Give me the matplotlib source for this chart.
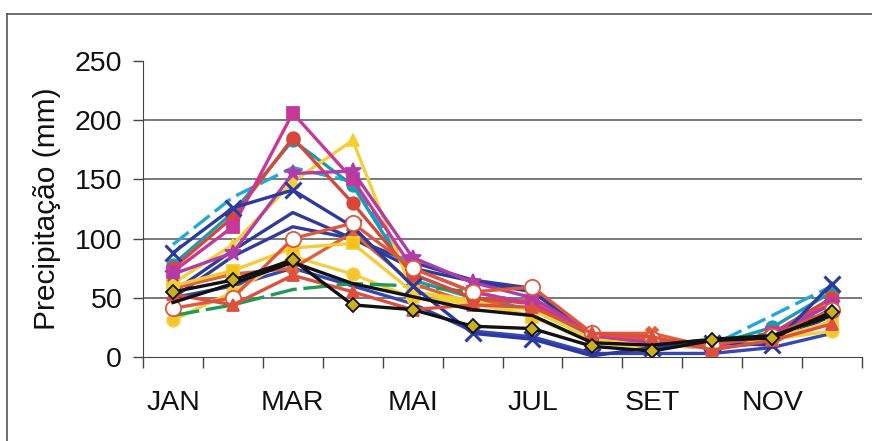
import matplotlib
matplotlib.use("Agg")
import matplotlib.pyplot as plt
from matplotlib.lines import Line2D
from matplotlib.ticker import FixedLocator

months = ["JAN", "FEV", "MAR", "ABR", "MAI", "JUN", "JUL", "AGO", "SET", "OUT", "NOV", "DEZ"]
month_labels = ["JAN", "", "MAR", "", "MAI", "", "JUL", "", "SET", "", "NOV", ""]
y_ticks = [0, 50, 100, 150, 200, 250]

s_magenta_sq = [72, 110, 206, 150, 75, 55, 45, 18, 12, 8, 20, 45]
s_red_circ = [75, 118, 185, 130, 70, 50, 45, 20, 15, 10, 20, 50]
s_teal_circ = [78, 122, 183, 145, 65, 50, 40, 18, 14, 10, 25, 55]
s_yellow_tri = [62, 95, 148, 183, 55, 45, 40, 15, 10, 8, 15, 30]
s_magenta_star = [70, 88, 155, 157, 84, 63, 50, 20, 15, 10, 18, 45]
s_blue_x = [88, 126, 141, 110, 60, 20, 15, 1, 8, 12, 10, 62]
s_cyan_dash = [95, 135, 160, 148, 70, 50, 40, 15, 10, 10, 35, 60]
s_navy_a = [55, 90, 122, 100, 75, 64, 55, 18, 12, 8, 15, 40]
s_navy_b = [50, 85, 110, 100, 80, 65, 58, 15, 10, 8, 12, 35]
s_black_dia = [55, 65, 82, 44, 40, 26, 24, 9, 5, 14, 16, 38]
s_black = [46, 62, 80, 62, 51, 40, 35, 12, 10, 15, 18, 35]
s_red_tri = [53, 44, 69, 55, 40, 44, 42, 20, 17, 6, 14, 28]
s_yellow_sq = [60, 73, 92, 96, 55, 48, 34, 12, 10, 8, 15, 30]
s_green_dash = [35, 44, 57, 62, 60, 55, 45, 15, 12, 14, 20, 40]
s_white_circ = [41, 50, 100, 113, 75, 55, 59, 20, 15, 10, 18, 40]
s_yellow_circ = [31, 55, 85, 70, 50, 45, 35, 12, 8, 10, 15, 22]
s_blue_low = [50, 60, 75, 60, 45, 22, 17, 3, 3, 3, 8, 20]
s_orange = [58, 70, 75, 105, 62, 45, 48, 20, 20, 8, 15, 50]

series = [
    (s_navy_b, dict(color="#343C9A", ls="-", marker=None)),
    (s_navy_a, dict(color="#2E3C96", ls="-", marker=None)),
    (s_blue_low, dict(color="#3548B0", ls="-", marker=None)),
    (s_cyan_dash, dict(color="#22A8D4", ls=(0, (6, 2)), marker=None)),
    (s_teal_circ, dict(color="#1E9AB0", ls="-", marker="o", mfc="#1E9AB0")),
    (s_yellow_circ, dict(color="#F2D040", ls="-", marker="o", mfc="#F5C530")),
    (s_green_dash, dict(color="#1E9A55", ls=(0, (8, 2)), marker=None)),
    (s_orange, dict(color="#E0603A", ls="-", marker="X", mfc="#E0603A")),
    (s_yellow_sq, dict(color="#F4CC38", ls="-", marker="s", mfc="#F5C21A")),
    (s_yellow_tri, dict(color="#F2D03A", ls="-", marker="^", mfc="#F5D030")),
    (s_red_circ, dict(color="#D8483A", ls="-", marker="o", mfc="#D8483A")),
    (s_magenta_sq, dict(color="#C8389A", ls="-", marker="s", mfc="#C8389A")),
    (s_magenta_star, dict(color="#B03CA8", ls="-", marker="*", mfc="#B03CA8")),
    (s_blue_x, dict(color="#2C3AA0", ls="-", marker="x", mfc="#2C3AA0")),
    (s_white_circ, dict(color="#E0583C", ls="-", marker="o", mfc="white")),
    (s_red_tri, dict(color="#DE503E", ls="-", marker="^", mfc="#DE503E")),
    (s_black, dict(color="#111111", ls="-", marker=None)),
    (s_black_dia, dict(color="#111111", ls="-", marker="D", mfc="#C8B020")),
]

plt.rcParams["font.family"] = ["Liberation Sans", "DejaVu Sans"]

fig = plt.figure(figsize=(8.72, 4.41), dpi=100)
fig.patch.set_facecolor("white")
ax = fig.add_axes([143 / 872, 1 - 357 / 441, (862 - 143) / 872, (357 - 61) / 441])

x = list(range(len(months)))
for vals, st in series:
    mk = st.get("marker")
    if mk == "D":
        ms = 7
    elif mk in ("x", "*"):
        ms = 12
    elif mk == "o" and st.get("mfc") == "white":
        ms = 11
    else:
        ms = 9
    ax.plot(x, vals, color=st["color"], ls=st["ls"], lw=2.4,
            marker=mk, ms=ms,
            mfc=st.get("mfc", st["color"]), mec=st["color"],
            mew=2.2 if mk == "x" else 1.3, zorder=3)

ax.set_xlim(-0.5, 11.5)
ax.set_ylim(0, 250)
ax.set_yticks(y_ticks)
ax.set_xticks(x)
ax.set_xticklabels(month_labels)
ax.xaxis.set_minor_locator(FixedLocator([i - 0.5 for i in range(13)]))
ax.tick_params(axis="x", which="major", length=0, pad=24, labelsize=20.5)
ax.tick_params(axis="x", which="minor", length=8, width=1, color="#444444", direction="out")
ax.tick_params(axis="y", length=7, width=1, color="#444444", direction="out", pad=8, labelsize=20.5)
for lbl in ax.get_xticklabels() + ax.get_yticklabels():
    lbl.set_color("#111111")

for yv in y_ticks[1:-1]:
    ax.axhline(yv, color="#555555", lw=1.1, zorder=1)

ax.spines["top"].set_visible(False)
ax.spines["right"].set_visible(False)
ax.spines["left"].set_color("#444444")
ax.spines["bottom"].set_color("#444444")
ax.set_ylabel("Precipitação (mm)", fontsize=21.5, color="#111111", labelpad=10)

fig.add_artist(Line2D([7 / 872, 7 / 872], [0, 1 - 14 / 441], transform=fig.transFigure, color="#555555", lw=1.2))
fig.add_artist(Line2D([7 / 872, 1], [1 - 14 / 441, 1 - 14 / 441], transform=fig.transFigure, color="#555555", lw=1.2))

fig.savefig("out.png", dpi=100, facecolor="white")
